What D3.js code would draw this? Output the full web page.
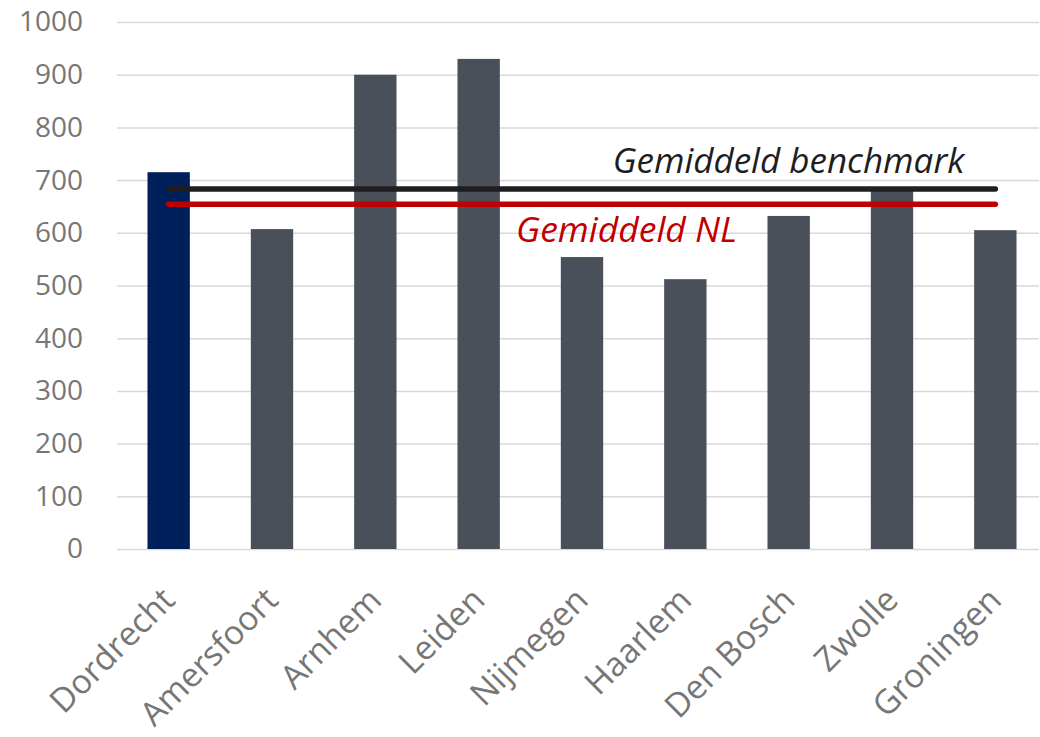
<!DOCTYPE html>
<html>
<head>
<meta charset="utf-8">
<script src="https://cdn.jsdelivr.net/npm/d3@7"></script>
<style>
  html, body { margin: 0; padding: 0; background: #fff; overflow: hidden; }
  svg { display: block; font-family: "Open Sans", "Noto Sans", sans-serif; }
</style>
</head>
<body>
<div id="root"></div>
<script>
const cities = ["Dordrecht", "Amersfoort", "Arnhem", "Leiden", "Nijmegen", "Haarlem", "Den Bosch", "Zwolle", "Groningen"];
const values = [715, 607, 900, 930, 554, 512, 632, 680, 605];
const highlight = "Dordrecht";
const yTicks = [0, 100, 200, 300, 400, 500, 600, 700, 800, 900, 1000];
const benchmarkValue = 683;
const nlValue = 654;
const benchmarkLabel = "Gemiddeld benchmark";
const nlLabel = "Gemiddeld NL";

const width = 1040;
const height = 737;
const margin = { top: 22, right: -7, bottom: 188, left: 117 };
const innerWidth = width - margin.left - margin.right;
const innerHeight = height - margin.top - margin.bottom;

const svg = d3.select("#root")
  .append("svg")
  .attr("width", width)
  .attr("height", height)
  .attr("viewBox", `0 0 ${width} ${height}`);

const innerChart = svg.append("g")
  .attr("transform", `translate(${margin.left}, ${margin.top})`);

const xScale = d3.scaleBand()
  .domain(cities)
  .range([0, innerWidth])
  .paddingInner(0.59)
  .paddingOuter(0.295);

const yScale = d3.scaleLinear()
  .domain([0, 1000])
  .range([innerHeight, 0]);

// gridlines + y labels
const leftAxis = d3.axisLeft(yScale)
  .tickValues(yTicks)
  .tickFormat(d3.format("d"))
  .tickSize(-(width - margin.left - 1))
  .tickPadding(34);

const yAxis = innerChart.append("g").call(leftAxis);
yAxis.select(".domain").remove();
yAxis.selectAll(".tick line")
  .attr("stroke", "#d9d9d9")
  .attr("stroke-width", 1.5);
yAxis.selectAll(".tick text")
  .attr("fill", "#767676")
  .style("font-family", "'Open Sans', sans-serif")
  .style("font-size", "28px");

// bars
innerChart.selectAll(".bar")
  .data(cities)
  .join("rect")
  .attr("class", "bar")
  .attr("x", (d) => xScale(d))
  .attr("width", xScale.bandwidth())
  .attr("y", (d, i) => yScale(values[i]))
  .attr("height", (d, i) => innerHeight - yScale(values[i]))
  .attr("fill", (d) => (d === highlight ? "#00205b" : "#4a5059"));

// x labels, rotated
innerChart.selectAll(".xlabel")
  .data(cities)
  .join("text")
  .attr("class", "xlabel")
  .attr("text-anchor", "end")
  .attr("transform", (d) => {
    const cx = xScale(d) + xScale.bandwidth() / 2 + 8;
    return `translate(${cx}, ${innerHeight + 53}) rotate(-45)`;
  })
  .attr("fill", "#767676")
  .style("font-size", "33.5px")
  .text((d) => d);

// average lines
const x0 = xScale(cities[0]) + xScale.bandwidth() / 2;
const x1 = xScale(cities[cities.length - 1]) + xScale.bandwidth() / 2;

innerChart.append("line")
  .attr("x1", x0).attr("x2", x1)
  .attr("y1", yScale(benchmarkValue)).attr("y2", yScale(benchmarkValue))
  .attr("stroke", "#1e1e1e")
  .attr("stroke-width", 5.5)
  .attr("stroke-linecap", "round");

innerChart.append("line")
  .attr("x1", x0).attr("x2", x1)
  .attr("y1", yScale(nlValue)).attr("y2", yScale(nlValue))
  .attr("stroke", "#c00000")
  .attr("stroke-width", 5.5)
  .attr("stroke-linecap", "round");

innerChart.append("text")
  .attr("x", x1 - 31)
  .attr("y", yScale(benchmarkValue) - 16)
  .attr("text-anchor", "end")
  .attr("fill", "#1e1e1e")
  .style("font-size", "35px")
  .style("font-style", "italic")
  .text(benchmarkLabel);

innerChart.append("text")
  .attr("x", 516 - margin.left)
  .attr("y", yScale(nlValue) + 38)
  .attr("fill", "#c00000")
  .style("font-size", "35.5px")
  .style("font-style", "italic")
  .text(nlLabel);
</script>
</body>
</html>
